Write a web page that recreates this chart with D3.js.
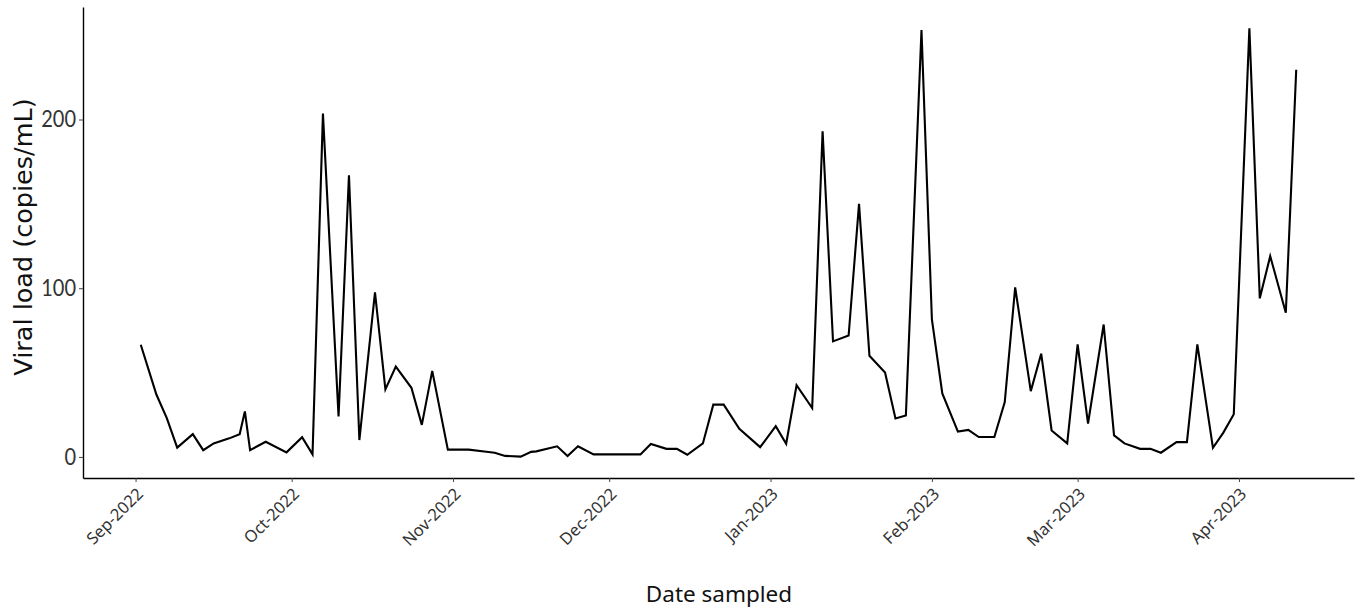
<!DOCTYPE html>
<html>
  <head>
    <title>Viral load</title>
    <meta charset="utf-8">
    <script src="https://d3js.org/d3.v7.min.js"></script>
    <style>
      body { margin: 0; background: #fff; }
    </style>
  </head>
  <body>
  <div id="chart"></div>
  <script>
    // sampling dates and viral load
    var dates = ['2022-09-02','2022-09-05','2022-09-07','2022-09-09','2022-09-12','2022-09-14','2022-09-16','2022-09-19',
      '2022-09-21','2022-09-22','2022-09-23','2022-09-26','2022-09-30','2022-10-03','2022-10-05','2022-10-07',
      '2022-10-10','2022-10-12','2022-10-14','2022-10-17','2022-10-19','2022-10-21','2022-10-24','2022-10-26',
      '2022-10-28','2022-10-31','2022-11-04','2022-11-07','2022-11-09','2022-11-11','2022-11-14','2022-11-16',
      '2022-11-17','2022-11-21','2022-11-23','2022-11-25','2022-11-28','2022-12-01','2022-12-05','2022-12-07',
      '2022-12-09','2022-12-12','2022-12-14','2022-12-16','2022-12-19','2022-12-21','2022-12-23','2022-12-26',
      '2022-12-30','2023-01-02','2023-01-04','2023-01-06','2023-01-09','2023-01-11','2023-01-13','2023-01-16',
      '2023-01-18','2023-01-20','2023-01-23','2023-01-25','2023-01-27','2023-01-30','2023-02-01','2023-02-03',
      '2023-02-06','2023-02-08','2023-02-10','2023-02-13','2023-02-15','2023-02-17','2023-02-20','2023-02-22',
      '2023-02-24','2023-02-27','2023-03-01','2023-03-03','2023-03-06','2023-03-08','2023-03-10','2023-03-13',
      '2023-03-15','2023-03-17','2023-03-20','2023-03-22','2023-03-24','2023-03-27','2023-03-29','2023-03-31',
      '2023-04-03','2023-04-05','2023-04-07','2023-04-10','2023-04-12'];
    var load = [66.5, 37, 23, 5.5, 13.5, 4, 8, 11,
      13.5, 27, 4, 9, 2.7, 11.7, 1.5, 203.5,
      24, 167, 10, 97.5, 40, 53.5, 41, 19,
      51, 4.3, 4.3, 3.2, 2.5, 0.6, 0.2, 3,
      3.3, 6.3, 0.5, 6.3, 1.5, 1.5, 1.5, 1.5,
      7.7, 4.8, 4.8, 1.3, 8, 31, 31, 16.7,
      5.8, 18.2, 7.8, 42.5, 29, 193, 68.5, 72,
      150, 60, 50, 22.8, 24.6, 253, 81.5, 37.6,
      15, 16, 11.8, 11.8, 32.5, 100.5, 39, 61.2,
      15.7, 8, 66.7, 19.8, 78.5, 12.8, 8, 4.8,
      4.8, 2.5, 8.8, 8.8, 66.7, 5.4, 14.4, 25.3,
      254, 94, 119, 85.5, 229.5];
    var yTicks = [0, 100, 200];
    var xTicks = ['2022-09-01','2022-10-01','2022-11-01','2022-12-01','2023-01-01','2023-02-01','2023-03-01','2023-04-01'];

    var width = 1362, height = 612;
    var margin = {top: 7, right: 8, bottom: 134, left: 83};
    var parse = d3.timeParse('%Y-%m-%d');
    var fmt = d3.timeFormat('%b-%Y');

    var data = dates.map(function(d, i) { return {date: parse(d), v: load[i]}; });

    var svg = d3.select('#chart').append('svg')
      .attr('width', width)
      .attr('height', height);

    // ggplot style 5% padding on both axes
    var xExt = d3.extent(data, function(d) { return d.date; });
    var xPad = (xExt[1] - xExt[0]) * 0.05;
    var x = d3.scaleTime()
      .domain([new Date(+xExt[0] - xPad), new Date(+xExt[1] + xPad)])
      .range([margin.left, width - margin.right]);

    var yMax = d3.max(load), yMin = d3.min(load);
    var yPad = (yMax - yMin) * 0.05;
    var y = d3.scaleLinear()
      .domain([yMin - yPad, yMax + yPad])
      .range([height - margin.bottom, margin.top]);

    var line = d3.line()
      .x(function(d) { return x(d.date); })
      .y(function(d) { return y(d.v); });

    svg.append('path')
      .datum(data)
      .attr('fill', 'none')
      .attr('stroke', '#000')
      .attr('stroke-width', 2.1)
      .attr('d', line);

    var xAxis = svg.append('g')
      .attr('transform', 'translate(0,' + (height - margin.bottom) + ')')
      .call(d3.axisBottom(x).tickValues(xTicks.map(parse)).tickFormat('').tickSize(4).tickSizeOuter(0));
    xAxis.select('.domain').attr('stroke', '#000').attr('stroke-width', 1.4);
    xAxis.selectAll('.tick line').attr('stroke', '#444');
    xAxis.selectAll('.tick text').remove();
    // slanted month labels
    xAxis.selectAll('.tick')
      .append('g')
      .attr('transform', 'translate(8,17)')
      .append('text')
      .attr('transform', 'rotate(-45)')
      .attr('text-anchor', 'end')
      .attr('font-family', '"Noto Sans", sans-serif')
      .attr('font-size', 16.5)
      .attr('fill', '#333')
      .text(function(d) { return fmt(d); });

    var yAxis = svg.append('g')
      .attr('transform', 'translate(' + margin.left + ',0)')
      .call(d3.axisLeft(y).tickValues(yTicks).tickSize(4).tickSizeOuter(0).tickPadding(3));
    yAxis.select('.domain').attr('stroke', '#000').attr('stroke-width', 1.4);
    yAxis.selectAll('.tick line').attr('stroke', '#444');
    // tall, narrow digits like the original
    yAxis.selectAll('.tick text')
      .attr('font-family', 'Lato, sans-serif')
      .attr('font-size', 23)
      .attr('fill', '#333')
      .attr('lengthAdjust', 'spacingAndGlyphs')
      .attr('textLength', function(d) { return String(d).length * 11.6; });

    svg.append('text')
      .attr('x', 719)
      .attr('y', 602)
      .attr('text-anchor', 'middle')
      .attr('font-family', '"Noto Sans", sans-serif')
      .attr('font-size', 22.5)
      .attr('fill', '#111')
      .text('Date sampled');

    svg.append('text')
      .attr('transform', 'translate(32,237) rotate(-90)')
      .attr('text-anchor', 'middle')
      .attr('font-family', '"DejaVu Sans", sans-serif')
      .attr('font-size', 25.5)
      .attr('fill', '#111')
      .text('Viral load (copies/mL)');
  </script>
  </body>
</html>
